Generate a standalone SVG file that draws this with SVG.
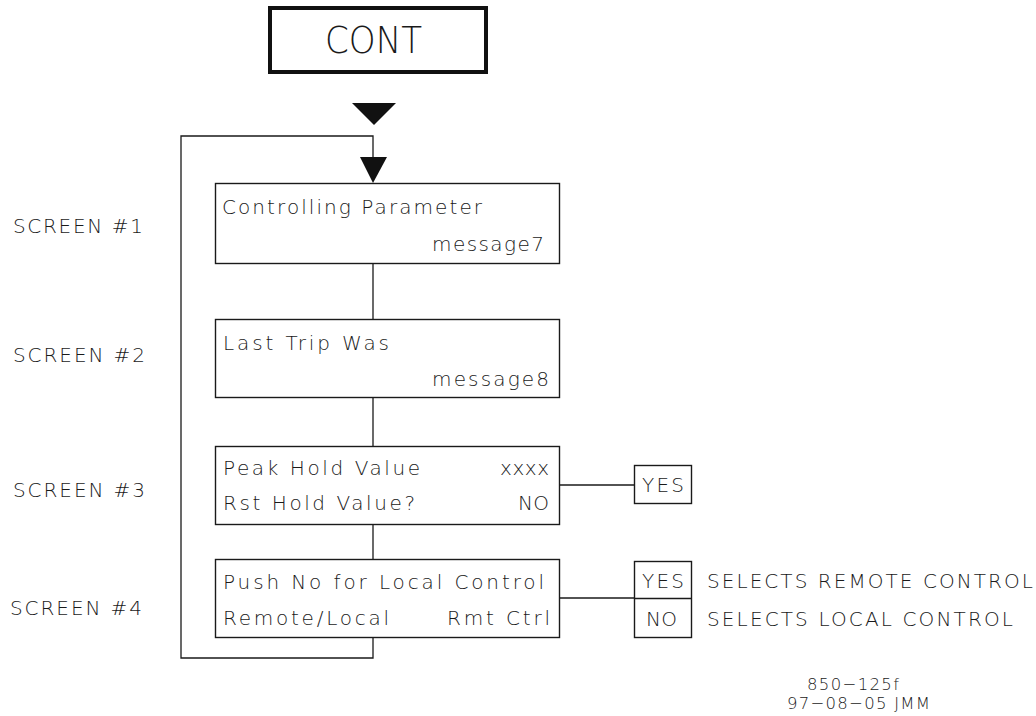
<svg xmlns="http://www.w3.org/2000/svg" width="1036" height="716" viewBox="0 0 1036 716">
<style>
.bx{fill:none;stroke:#1a1a1a;stroke-width:1.4}
.ln{fill:none;stroke:#1a1a1a;stroke-width:1.3}
.t{font-family:"DejaVu Sans","Liberation Sans",Arial,sans-serif;font-size:20px;font-weight:200;fill:#1a1a1a}
.s{font-size:16.5px}
</style>
<rect width="1036" height="716" fill="#ffffff"/>
<g id="cont">
<rect x="270" y="8" width="216" height="64" fill="none" stroke="#111" stroke-width="4"/>
<text class="t" x="325" y="53" style="font-size:38px" textLength="97" lengthAdjust="spacingAndGlyphs">CONT</text>
</g>
<g id="connectors">
<polygon points="352,103 396,103 374,125" fill="#111"/>
<polyline class="ln" points="373,264 373,319"/>
<polyline class="ln" points="373,398 373,446"/>
<polyline class="ln" points="373,524 373,559"/>
<polyline class="ln" points="373,638 373,658 181,658 181,136 373,136 373,160"/>
<polygon points="360,157 387,157 373,183" fill="#111"/>
<polyline class="ln" points="559,485 634,485"/>
<polyline class="ln" points="559,598 634,598"/>
</g>
<g id="screen1">
<rect class="bx" x="215.5" y="183.5" width="344" height="80"/>
<text class="t" x="222" y="214" textLength="260">Controlling Parameter</text>
<text class="t" x="432" y="251" textLength="112">message7</text>
</g>
<g id="screen2">
<rect class="bx" x="215.5" y="319.5" width="344" height="78"/>
<text class="t" x="223" y="350" textLength="166">Last Trip Was</text>
<text class="t" x="432" y="386" textLength="117">message8</text>
</g>
<g id="screen3">
<rect class="bx" x="215.5" y="446.5" width="344" height="78"/>
<text class="t" x="223" y="475" textLength="197">Peak Hold Value</text>
<text class="t" x="500" y="475" textLength="49">xxxx</text>
<text class="t" x="223" y="510" textLength="192">Rst Hold Value?</text>
<text class="t" x="518" y="510" textLength="31">NO</text>
</g>
<g id="screen4">
<rect class="bx" x="215.5" y="559.5" width="344" height="78"/>
<text class="t" x="223" y="589" textLength="321">Push No for Local Control</text>
<text class="t" x="223" y="625" textLength="166">Remote/Local</text>
<text class="t" x="447" y="625" textLength="103">Rmt Ctrl</text>
</g>
<g id="yes3">
<rect class="bx" x="634.5" y="465.5" width="57" height="38"/>
<text class="t" x="642" y="492" textLength="42">YES</text>
</g>
<g id="yesno4">
<rect class="bx" x="634.5" y="561.5" width="57" height="76"/>
<line class="ln" x1="634" y1="598.5" x2="691" y2="598.5"/>
<text class="t" x="642" y="588" textLength="42">YES</text>
<text class="t" x="646" y="626" textLength="31">NO</text>
</g>
<g id="labels">
<text class="t" x="13" y="233" textLength="130">SCREEN  #1</text>
<text class="t" x="13" y="362" textLength="132">SCREEN  #2</text>
<text class="t" x="13" y="497" textLength="132">SCREEN  #3</text>
<text class="t" x="10" y="615" textLength="132">SCREEN  #4</text>
<text class="t" x="707" y="588" textLength="326">SELECTS REMOTE CONTROL</text>
<text class="t" x="707" y="626" textLength="306">SELECTS LOCAL CONTROL</text>
<text class="t s" x="807" y="690" textLength="92">850−125f</text>
<text class="t s" x="787" y="709" textLength="143">97−08−05 JMM</text>
</g>
</svg>
